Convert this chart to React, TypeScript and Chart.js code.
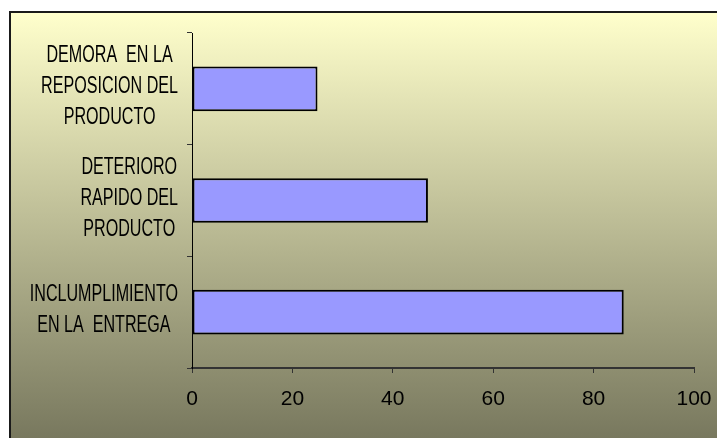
import React, { useEffect, useRef } from "react";
import { Chart, registerables } from "chart.js";

Chart.register(...registerables);

// Categories (top to bottom), each split into its displayed lines
const categories: string[][] = [
  ["DEMORA  EN LA", "REPOSICION DEL", "PRODUCTO"],
  ["DETERIORO", "RAPIDO DEL", "PRODUCTO"],
  ["INCLUMPLIMIENTO", "EN LA  ENTREGA"],
];
const values: number[] = [25, 47, 86];
const xMin = 0;
const xMax = 100;
const xStep = 20;

const W = 717;
const H = 438;

const backgroundPlugin = {
  id: "bgFrame",
  beforeDraw(chart: any) {
    const ctx = chart.ctx as CanvasRenderingContext2D;
    ctx.save();
    ctx.fillStyle = "#ffffff";
    ctx.fillRect(0, 0, W, H);
    const g = ctx.createLinearGradient(0, 12, 0, H);
    g.addColorStop(0, "#FFFFCC");
    g.addColorStop(1, "#78785E");
    ctx.fillStyle = g;
    ctx.fillRect(10, 12, W - 10, H - 12);
    ctx.strokeStyle = "#1a1a1a";
    ctx.lineWidth = 2;
    ctx.beginPath();
    ctx.moveTo(10, H + 2);
    ctx.lineTo(10, 12);
    ctx.lineTo(W + 2, 12);
    ctx.stroke();
    ctx.restore();
  },
};

const LABEL_SIZE = 23;
const LABEL_SX = 0.7;
const LABEL_LINE = 31;
const LABEL_RIGHT = 178;

const yLabelPlugin = {
  id: "yLabels",
  afterDraw(chart: any) {
    const ctx = chart.ctx as CanvasRenderingContext2D;
    const ys = chart.scales.y;
    ctx.save();
    ctx.font = `${LABEL_SIZE}px 'Liberation Sans', Arial, sans-serif`;
    ctx.fillStyle = "#000000";
    ctx.textBaseline = "middle";
    ctx.textAlign = "center";
    categories.forEach((lines, i) => {
      const cy = ys.getPixelForValue(i) - 2;
      const widths = lines.map((l) => ctx.measureText(l).width * LABEL_SX);
      const maxW = Math.max(...widths);
      const cx = LABEL_RIGHT - maxW / 2;
      lines.forEach((l, j) => {
        const ly = cy + (j - (lines.length - 1) / 2) * LABEL_LINE;
        ctx.save();
        ctx.translate(cx, ly);
        ctx.scale(LABEL_SX, 1);
        ctx.fillText(l, 0, 0);
        ctx.restore();
      });
    });
    ctx.restore();
  },
};

export default function App() {
  const ref = useRef<HTMLCanvasElement | null>(null);
  useEffect(() => {
    if (!ref.current) return;
    const chart = new Chart(ref.current, {
      type: "bar",
      data: {
        labels: categories,
        datasets: [
          {
            data: values,
            backgroundColor: "#9999FF",
            borderColor: "#000000",
            borderWidth: 2,
            borderSkipped: false,
            barPercentage: 0.4,
            categoryPercentage: 1,
          },
        ],
      },
      options: {
        indexAxis: "y",
        responsive: false,
        animation: false,
        devicePixelRatio: 1,
        layout: { padding: { top: 33, right: 23, left: 0, bottom: 0 } },
        plugins: {
          legend: { display: false },
          tooltip: { enabled: false },
        },
        scales: {
          x: {
            min: xMin,
            max: xMax,
            afterFit: (s: any) => {
              s.height = 70;
              s.paddingRight = 23;
              s.paddingLeft = 0;
            },
            ticks: {
              stepSize: xStep,
              color: "#000000",
              padding: 14,
              font: { family: "'Liberation Sans Narrow', 'Liberation Sans', Arial", size: 21 },
            },
            grid: {
              drawOnChartArea: false,
              tickLength: 5,
              tickColor: "#333333",
              lineWidth: 1,
            },
            border: { display: true, color: "#333333", width: 2 },
          },
          y: {
            type: "category",
            offset: true,
            afterFit: (s: any) => {
              s.width = 192;
            },
            ticks: { display: false },
            grid: {
              offset: true,
              drawOnChartArea: false,
              tickLength: 5,
              tickColor: "#333333",
            },
            border: { display: true, color: "#000000", width: 1 },
          },
        },
      },
      plugins: [backgroundPlugin, yLabelPlugin],
    });
    return () => chart.destroy();
  }, []);
  return (
    <div style={{ position: "fixed", left: 0, top: 0, width: W, height: H }}>
      <canvas ref={ref} width={W} height={H} style={{ width: W, height: H }} />
    </div>
  );
}
